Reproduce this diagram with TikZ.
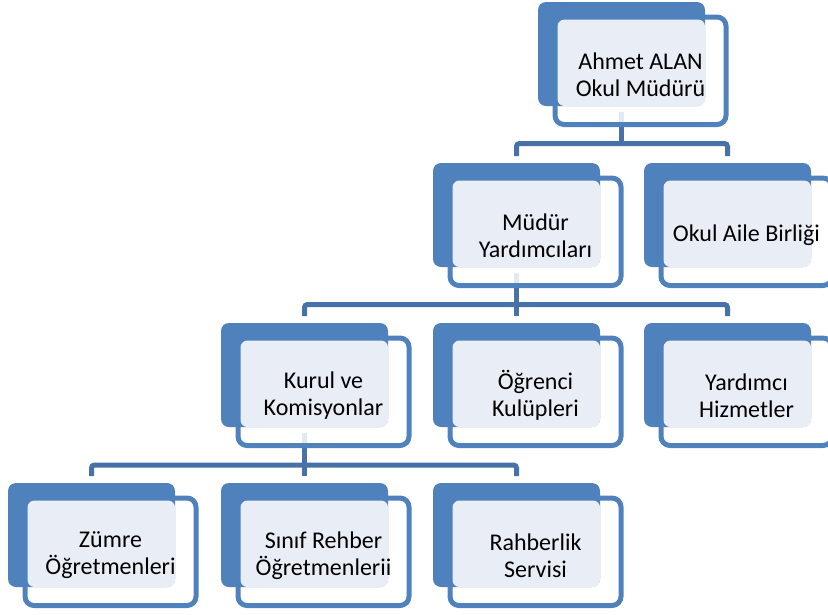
\documentclass[tikz,border=0pt]{standalone}
\usepackage{fontspec}
\setmainfont{Carlito}
\usetikzlibrary{calc}

\definecolor{boxblue}{RGB}{79,129,189}
\definecolor{boxlight}{RGB}{233,238,246}
\definecolor{linkblue}{RGB}{70,114,168}

% #1 name, #2 x, #3 y (top left corner of the back card), #4 text
\newcommand{\orgunit}[4]{%
	\draw[boxblue, line width=5, rounded corners=9, fill=white, fill opacity=.85] (#2+17, #3+15) rectangle (#2+188, #3+122.5);
	\fill[boxblue, rounded corners=8] (#2, #3) rectangle (#2+167, #3+104);
	\fill[boxlight, rounded corners=7] (#2+19.5, #3+17.5) rectangle (#2+167, #3+104);
	\node[unit] (#1) at (#2+102.5, #3+72.5) {#4};
	\coordinate (#1-top) at (#2+83.5, #3-7);
	\coordinate (#1-bot) at (#2+83.5, #3+110);
}

\begin{document}
\begin{tikzpicture}[x=1pt, y=-1pt,
	unit/.style={inner sep=0, align=center, text=black, font=\fontsize{24}{27}\selectfont},
	link/.style={draw=linkblue, line width=5, rounded corners=3}]
	\useasboundingbox (0, 0) rectangle (828, 614);
	\clip (0, 0) rectangle (828, 614);

	\coordinate (bus1) at (0, 143.5);
	\coordinate (bus2) at (0, 304.5);
	\coordinate (bus3) at (0, 465);

	% connectors (drawn first, the cards lie on top)
	\path (538+83.5, 112) coordinate (ahmet-bot) (433+83.5, 273) coordinate (mudur-bot) (221+83.5, 433) coordinate (kurul-bot);
	\path (433+83.5, 156) coordinate (mudur-top) (644+83.5, 156) coordinate (aile-top);
	\path (221+83.5, 316) coordinate (kurul-top) (433+83.5, 316) coordinate (ogrenci-top) (644+83.5, 316) coordinate (yardimci-top);
	\path (8+83.5, 476) coordinate (zumre-top) (221+83.5, 476) coordinate (sinif-top) (433+83.5, 476) coordinate (rehber-top);

	\draw[link] (ahmet-bot) -- (ahmet-bot |- bus1);
	\draw[link] (mudur-top) -- (mudur-top |- bus1) -- (aile-top |- bus1) -- (aile-top);

	\draw[link] (mudur-bot) -- (ogrenci-top);
	\draw[link] (kurul-top) -- (kurul-top |- bus2) -- (yardimci-top |- bus2) -- (yardimci-top);

	\draw[link] (kurul-bot) -- (kurul-bot |- bus3);
	\draw[link] (zumre-top) -- (zumre-top |- bus3) -- (rehber-top |- bus3) -- (rehber-top);
	\draw[link] (sinif-top |- bus3) -- (sinif-top);

	% cards
	\orgunit{ahmet}{538}{2}{Ahmet ALAN\\Okul Müdürü}
	\orgunit{mudur}{433}{163}{Müdür\\Yardımcıları}
	\orgunit{aile}{644}{163}{Okul Aile Birliği}
	\orgunit{kurul}{221}{323}{Kurul ve\\Komisyonlar}
	\orgunit{ogrenci}{433}{323}{Öğrenci\\Kulüpleri}
	\orgunit{yardimci}{644}{323}{Yardımcı\\Hizmetler}
	\orgunit{zumre}{8}{483}{Zümre\\Öğretmenleri}
	\orgunit{sinif}{221}{483}{Sınıf Rehber\\Öğretmenlerii}
	\orgunit{rehber}{433}{483}{Rahberlik\\Servisi}
\end{tikzpicture}
\end{document}
